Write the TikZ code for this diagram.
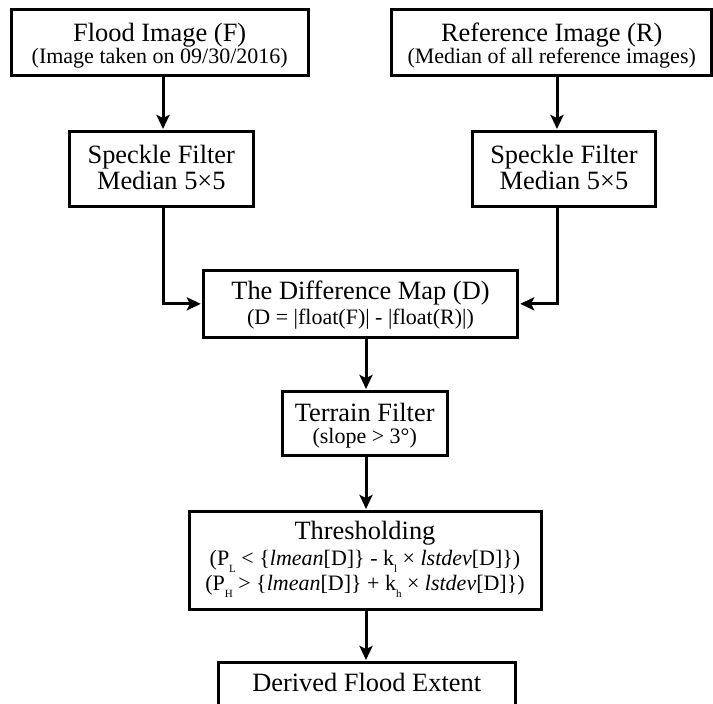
\documentclass[tikz,border=0pt]{standalone}
\usepackage{fontspec}
\setmainfont{Liberation Serif}
\usetikzlibrary{arrows.meta}
\newcommand\mybig{\fontsize{26.4}{26.6}\selectfont\lineskiplimit=-50pt\relax}
\newcommand\mysmall{\fontsize{22}{20}\selectfont\lineskiplimit=-50pt\relax}
\newcommand\mysub[1]{\raisebox{-0.3em}{\fontsize{11}{11}\selectfont #1}}
\newcommand\topstrut[1]{\rule{0pt}{#1pt}}
\newcommand\botstrut[1]{\rule[-#1pt]{0pt}{#1pt}}
\begin{document}
\begin{tikzpicture}[x=1pt,y=-1pt,
  box/.style={draw, line width=3pt, inner sep=0pt, align=center, anchor=north},
  arr/.style={line width=3pt, shorten >=1pt, -{Stealth[length=14pt,width=13pt,inset=3pt]}}]
\useasboundingbox (0,0) rectangle (713,704);
\clip (0,0) rectangle (713,704);
\coordinate (lx) at (163,0);
\coordinate (rx) at (557,0);
\coordinate (cx) at (366,0);
\node[box, minimum width=296.7, font=\mysmall] (F) at (159.7,7.5)
  {{\mybig\topstrut{32.5}Flood Image (F)}\\[1.5pt](Image taken on 09/30/2016)\botstrut{12.5}};
\node[box, minimum width=320, font=\mysmall] (R) at (551.7,7.5)
  {{\mybig\topstrut{32.5}Reference Image (R)}\\[1.5pt](Median of all reference images)\botstrut{12.5}};
\node[box, minimum width=184, font=\mybig] (SL) at (161.3,130)
  {\topstrut{31.7}Speckle Filter\\Median 5×5\botstrut{16.7}};
\node[box, minimum width=183.4, font=\mybig] (SR) at (564,130)
  {\topstrut{31.7}Speckle Filter\\Median 5×5\botstrut{16.7}};
\node[box, minimum width=314.4, font=\mysmall] (D) at (360.5,269)
  {{\mybig\topstrut{29.3}The Difference Map (D)}\\[5pt](D = |float(F)| - |float(R)|)\botstrut{12.4}};
\node[box, minimum width=165.3, font=\mysmall] (T) at (364.7,390)
  {{\mybig\topstrut{30.3}Terrain Filter}\\[1.2pt](slope > 3°)\botstrut{12}};
\node[box, minimum width=352, font=\mysmall] (Th) at (365,510)
  {{\mybig\topstrut{27.7}Thresholding}\\[6.3pt]
   (P\mysub{L} < \{\textit{lmean}[D]\} - k\mysub{l} × \textit{lstdev}[D]\})\\[5.3pt]
   (P\mysub{H} > \{\textit{lmean}[D]\} + k\mysub{h} × \textit{lstdev}[D]\})\botstrut{18.4}};
\node[box, minimum width=296.7, font=\mybig] (Dv) at (366.7,661)
  {\topstrut{29}Derived Flood Extent\botstrut{50}};
\draw[arr] (F.south -| lx) -- (SL.north -| lx);
\draw[arr] (R.south -| rx) -- (SR.north -| rx);
\draw[arr] (SL.south -| lx) |- (D.west);
\draw[arr] (SR.south -| rx) |- (D.east);
\draw[arr] (D.south -| cx) -- (T.north -| cx);
\draw[arr] (T.south -| cx) -- (Th.north -| cx);
\draw[arr] (Th.south -| cx) -- (Dv.north -| cx);
\end{tikzpicture}
\end{document}
